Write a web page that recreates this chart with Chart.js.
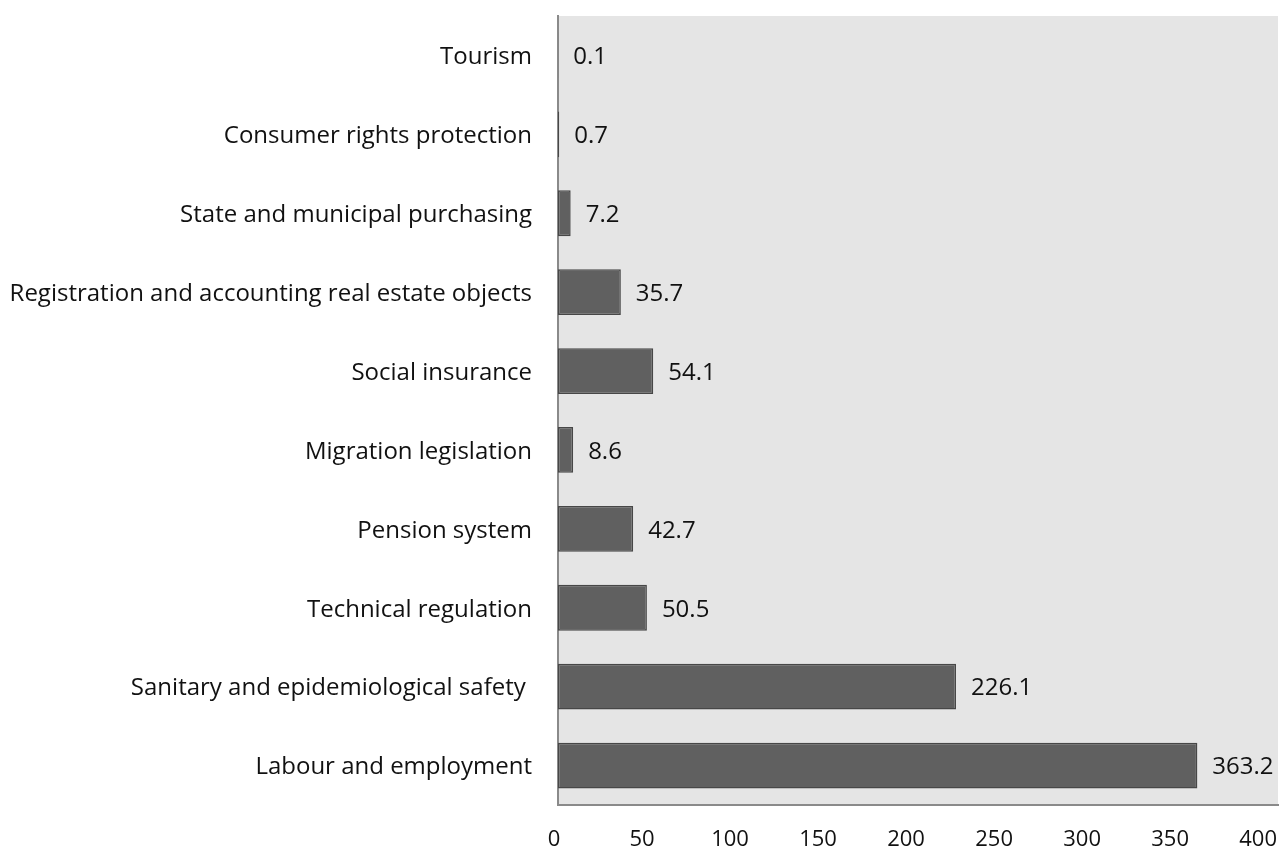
<!DOCTYPE html>
<html>
<head>
<meta charset="utf-8">
<script src="https://cdn.jsdelivr.net/npm/chart.js@4"></script>
<style>
  html, body { margin: 0; padding: 0; background: #fff; }
  #wrap { width: 1280px; height: 850px; }
</style>
</head>
<body>
<div id="wrap"><canvas id="areasChart"></canvas></div>
<script>
// data, top to bottom as shown
let categories = [
    "Tourism",
    "Consumer rights protection",
    "State and municipal purchasing",
    "Registration and accounting real estate objects",
    "Social insurance",
    "Migration legislation",
    "Pension system",
    "Technical regulation",
    "Sanitary and epidemiological safety ",
    "Labour and employment",
];
let values = [0.1, 0.7, 7.2, 35.7, 54.1, 8.6, 42.7, 50.5, 226.1, 363.2];
let xTicks = [0, 50, 100, 150, 200, 250, 300, 350, 400];

let fontFamily = "'Open Sans', 'Noto Sans', sans-serif";

// grey plot background
let plotBackground = {
    id: "plotBackground",
    beforeDraw(chart) {
        let { ctx, chartArea } = chart;
        ctx.save();
        ctx.fillStyle = "#e5e5e5";
        ctx.fillRect(chartArea.left, chartArea.top, chartArea.right - chartArea.left, chartArea.bottom - chartArea.top);
        ctx.restore();
    },
};

// numbers to the right of each bar
let valueLabels = {
    id: "valueLabels",
    afterDatasetsDraw(chart) {
        let { ctx } = chart;
        let meta = chart.getDatasetMeta(0);
        ctx.save();
        ctx.font = "24px " + fontFamily;
        ctx.fillStyle = "#111";
        ctx.textAlign = "left";
        ctx.textBaseline = "middle";
        meta.data.forEach((bar, i) => {
            ctx.fillText(values[i].toFixed(1), bar.x + 15, bar.y + 2);
        });
        ctx.restore();
    },
};

let ctx = document.getElementById("areasChart").getContext("2d");

let areasChart = new Chart(ctx, {
    type: "bar",
    data: {
        labels: categories,
        datasets: [
            {
                label: "Value",
                data: values,
                backgroundColor: "#606060",
                borderColor: "#474747",
                borderWidth: 1.5,
                borderSkipped: false,
                barPercentage: 0.58,
                categoryPercentage: 1,
            },
        ],
    },
    options: {
        indexAxis: "y",
        responsive: true,
        maintainAspectRatio: false,
        animation: false,
        layout: {
            padding: { top: 16, right: 2, left: 0, bottom: 0 },
        },
        plugins: {
            legend: { display: false },
            tooltip: { enabled: false },
        },
        scales: {
            x: {
                min: 0,
                max: 409,
                afterBuildTicks: (scale) => {
                    scale.ticks = xTicks.map((v) => ({ value: v }));
                },
                afterFit: (scale) => {
                    scale.height = 45;
                    scale.paddingLeft = 0;
                    scale.paddingRight = 0;
                },
                grid: { display: false, drawTicks: false },
                border: { display: true, color: "#8a8a8a", width: 2 },
                ticks: {
                    color: "#111",
                    padding: 22,
                    labelOffset: -4,
                    font: { size: 22, family: fontFamily },
                    maxRotation: 0,
                },
            },
            y: {
                afterFit: (scale) => {
                    scale.width = 558;
                    scale.paddingTop = 0;
                    scale.paddingBottom = 0;
                },
                grid: { display: false, drawTicks: false },
                border: { display: true, color: "#8a8a8a", width: 2 },
                ticks: {
                    color: "#111",
                    padding: 26,
                    labelOffset: 2,
                    autoSkip: false,
                    font: { size: 24, family: fontFamily },
                },
            },
        },
    },
    plugins: [plotBackground, valueLabels],
});
</script>
</body>
</html>
